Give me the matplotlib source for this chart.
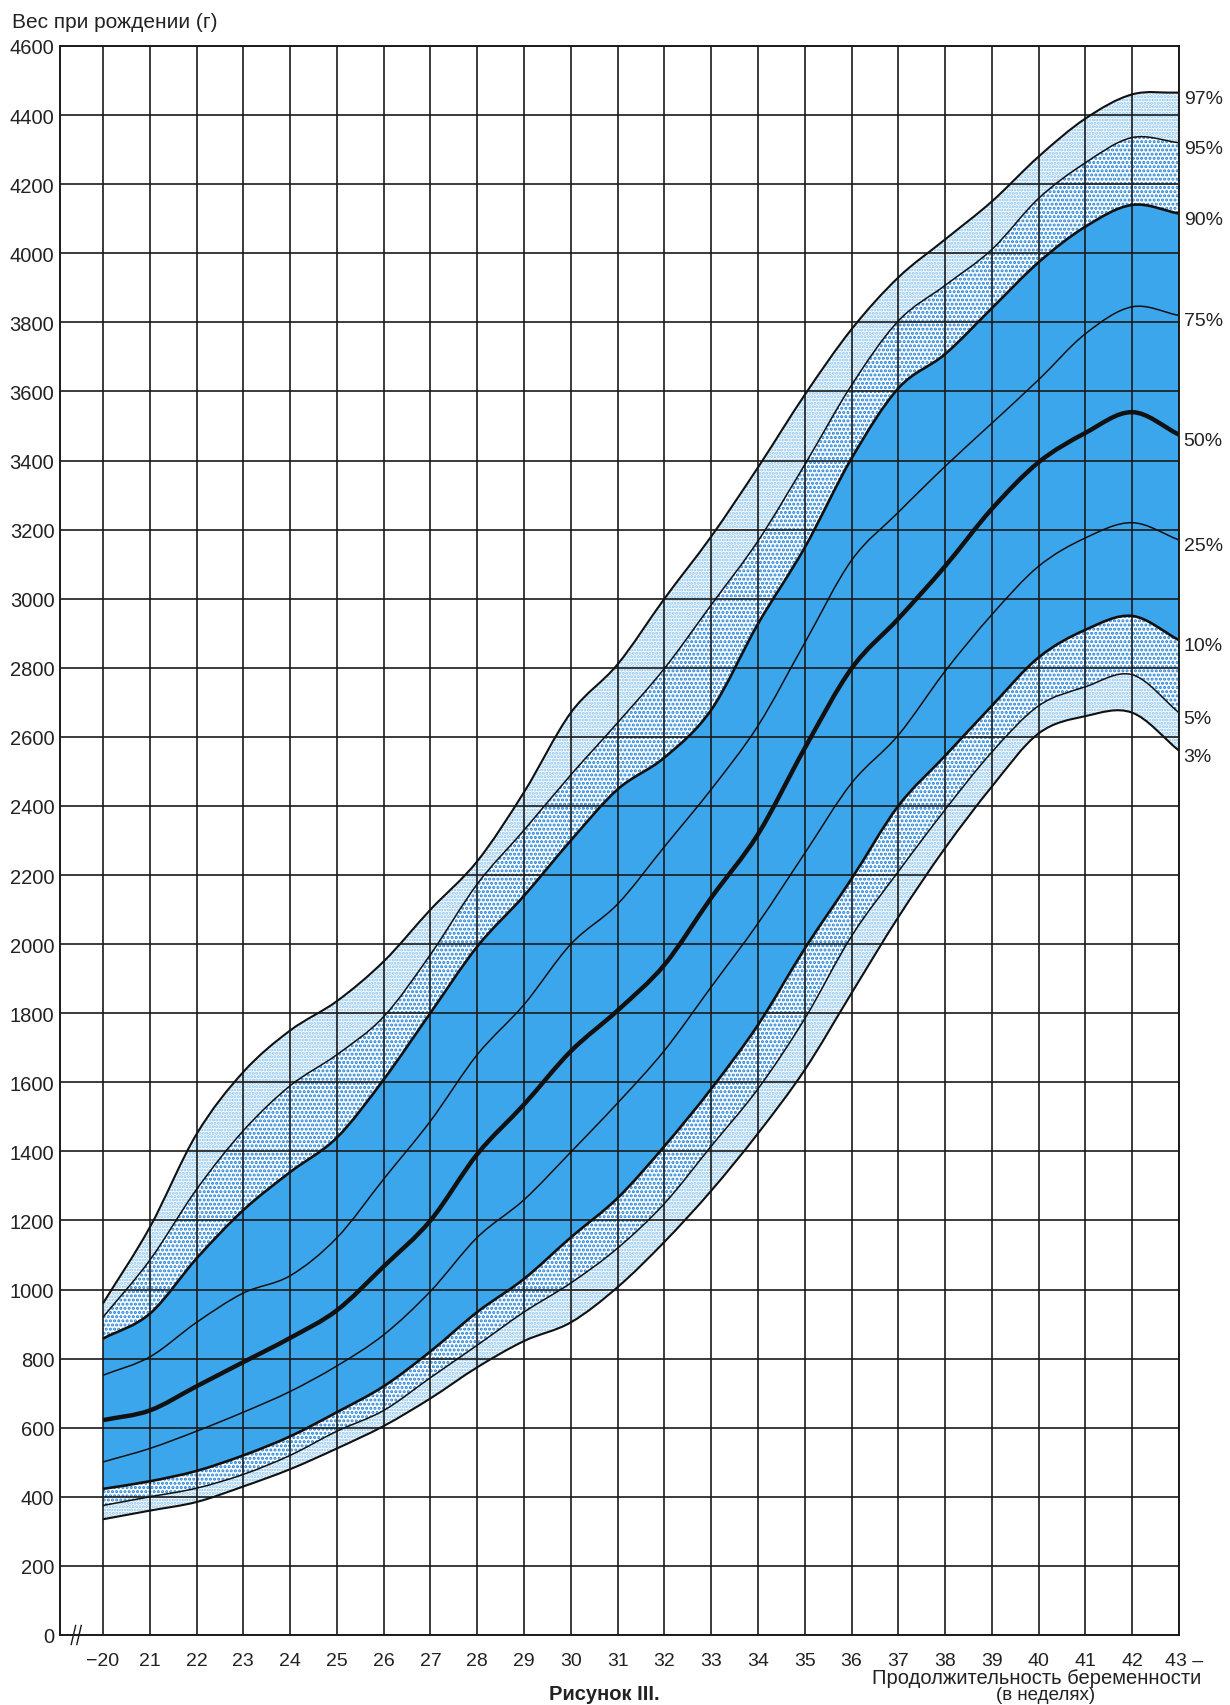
import numpy as np
import matplotlib.pyplot as plt
import matplotlib.transforms as mtransforms
from matplotlib.path import Path
from matplotlib.patches import PathPatch

plt.rcParams['font.family'] = ['Liberation Sans', 'DejaVu Sans']
plt.rcParams['hatch.linewidth'] = 1.5

# gestational age (weeks) and birth weight percentiles (g)
weeks = list(range(20, 44))
p97 = [960, 1180, 1450, 1630, 1750, 1835, 1950, 2100, 2240, 2440, 2670, 2810,
       3000, 3180, 3380, 3590, 3780, 3930, 4040, 4150, 4280, 4390, 4460, 4465]
p95 = [920, 1085, 1290, 1460, 1590, 1680, 1790, 1970, 2174, 2330, 2490, 2641,
       2798, 2982, 3167, 3388, 3618, 3804, 3907, 4011, 4159, 4262, 4335, 4320]
p90 = [858, 930, 1090, 1230, 1340, 1440, 1608, 1801, 1993, 2140, 2300, 2448,
       2540, 2678, 2927, 3148, 3406, 3609, 3708, 3841, 3974, 4077, 4140, 4115]
p75 = [752, 805, 905, 990, 1040, 1150, 1320, 1488, 1680, 1825, 2000, 2116,
       2282, 2448, 2632, 2872, 3111, 3250, 3383, 3508, 3634, 3767, 3845, 3820]
p50 = [622, 650, 720, 790, 860, 940, 1067, 1200, 1392, 1536, 1690, 1808,
       1940, 2134, 2318, 2567, 2798, 2942, 3094, 3260, 3395, 3480, 3540, 3475]
p25 = [501, 540, 590, 645, 705, 779, 869, 995, 1151, 1260, 1398, 1540,
       1692, 1876, 2060, 2263, 2466, 2605, 2790, 2954, 3094, 3176, 3220, 3170]
p10 = [423, 445, 475, 520, 575, 645, 720, 821, 935, 1031, 1151, 1265,
       1415, 1581, 1766, 1987, 2189, 2400, 2545, 2690, 2830, 2910, 2950, 2880]
p5 = [375, 400, 425, 465, 520, 590, 650, 745, 839, 935, 1019, 1120,
      1249, 1415, 1581, 1784, 2023, 2210, 2389, 2556, 2690, 2745, 2780, 2670]
p3 = [335, 360, 385, 430, 480, 540, 605, 685, 775, 851, 905, 1007,
      1138, 1286, 1452, 1636, 1858, 2078, 2278, 2456, 2610, 2660, 2670, 2560]

curves = [('97%', p97), ('95%', p95), ('90%', p90), ('75%', p75), ('50%', p50),
          ('25%', p25), ('10%', p10), ('5%', p5), ('3%', p3)]
widths = {'97%': 1.5, '95%': 1.1, '90%': 1.9, '75%': 1.1, '50%': 3.2,
          '25%': 1.1, '10%': 1.9, '5%': 1.1, '3%': 1.5}

y_ticks = list(range(0, 4601, 200))
x_labels = ['−20'] + [str(w) for w in weeks[1:-1]] + ['43 –']


def smooth_verts(xs, ys):
    # Catmull-Rom through the read points, as cubic Bezier control points
    pts = np.column_stack([xs, ys]).astype(float)
    ext = np.vstack([2 * pts[0] - pts[1], pts, 2 * pts[-1] - pts[-2]])
    verts = [pts[0]]
    for i in range(len(pts) - 1):
        p0, p1, p2, p3 = ext[i], ext[i + 1], ext[i + 2], ext[i + 3]
        verts += [p1 + (p2 - p0) / 6, p2 - (p3 - p1) / 6, p2]
    return np.array(verts)


def curve_path(xs, ys):
    v = smooth_verts(xs, ys)
    codes = [Path.MOVETO] + [Path.CURVE4] * (len(v) - 1)
    return Path(v, codes)


def band_path(xs, lo, hi):
    up = smooth_verts(xs, hi)
    dn = smooth_verts(xs, lo)[::-1]
    n = len(up) - 1
    v = np.vstack([up, dn, up[:1]])
    codes = ([Path.MOVETO] + [Path.CURVE4] * n + [Path.LINETO] +
             [Path.CURVE4] * n + [Path.CLOSEPOLY])
    return Path(v, codes)


W, H = 1230, 1706
fig = plt.figure(figsize=(W / 100, H / 100), dpi=100)
ax = fig.add_axes([60 / W, 1 - 1636 / H, (1179 - 60) / W, (1636 - 47) / H])

blue = '#3ca6ed'
dot_dense = '#1f80d8'
dot_light = '#86c2f0'

bands = [(p95, p97, 'white', dot_light, '.....'),
         (p90, p95, 'white', dot_dense, '....'),
         (p10, p90, blue, blue, None),
         (p5, p10, 'white', dot_dense, '....'),
         (p3, p5, 'white', dot_light, '.....')]
for lo, hi, fc, ec, hatch in bands:
    ax.add_patch(PathPatch(band_path(weeks, lo, hi), facecolor=fc,
                           edgecolor=ec, hatch=hatch, linewidth=0, zorder=1))

for name, vals in curves:
    ax.add_patch(PathPatch(curve_path(weeks, vals), facecolor='none',
                           edgecolor='#111111', lw=widths[name], zorder=3,
                           capstyle='butt', joinstyle='round'))
    ax.annotate(name, (43.1, vals[-1]), xytext=(0, -4), textcoords='offset points',
                ha='left', va='center', fontsize=14, color='#222222',
                annotation_clip=False)

ax.set_xlim(20 - 43 / 46.8, 43)
ax.set_ylim(0, 4600)
ax.set_xticks(weeks)
ax.set_xticklabels([])
ax.set_yticks(y_ticks)
ax.set_yticklabels([str(v) for v in y_ticks], fontsize=14.5, color='#222222')
ax.tick_params(length=0, pad=4)
ax.grid(True, color='#1a1a1a', lw=1.2)
ax.set_axisbelow(False)
for sp in ax.spines.values():
    sp.set_color('#1a1a1a')
    sp.set_linewidth(1.4)
    sp.set_zorder(4)

# week labels under the axis
trans = mtransforms.blended_transform_factory(ax.transData, ax.transAxes)
for w, lab in zip(weeks, x_labels):
    if lab.endswith('–'):
        ax.text(w - 0.3, -0.0158, lab, transform=trans, ha='left', va='center',
                fontsize=14, color='#222222')
    else:
        ax.text(w, -0.0158, lab, transform=trans, ha='center', va='center',
                fontsize=14, color='#222222')

# axis break mark near the origin
for x0 in (0.010, 0.015):
    ax.plot([x0, x0 + 0.004], [-0.006, 0.006], transform=ax.transAxes,
            color='#1a1a1a', lw=1.0, clip_on=False, zorder=5)

fig.text(12 / W, 1 - 22 / H, 'Вес при рождении (г)', ha='left', va='center',
         fontsize=15, color='#222222')
fig.text(1037 / W, 1 - 1679 / H, 'Продолжительность беременности',
         ha='center', va='center', fontsize=14.5, color='#222222')
fig.text(1046 / W, 1 - 1696 / H, '(в неделях)', ha='center', va='center',
         fontsize=13.5, color='#222222')
fig.text(604 / W, 1 - 1695 / H, 'Рисунок III.', ha='center', va='center',
         fontsize=14.5, fontweight='bold', color='#222222')

fig.savefig('out.png', dpi=100, facecolor='white')
